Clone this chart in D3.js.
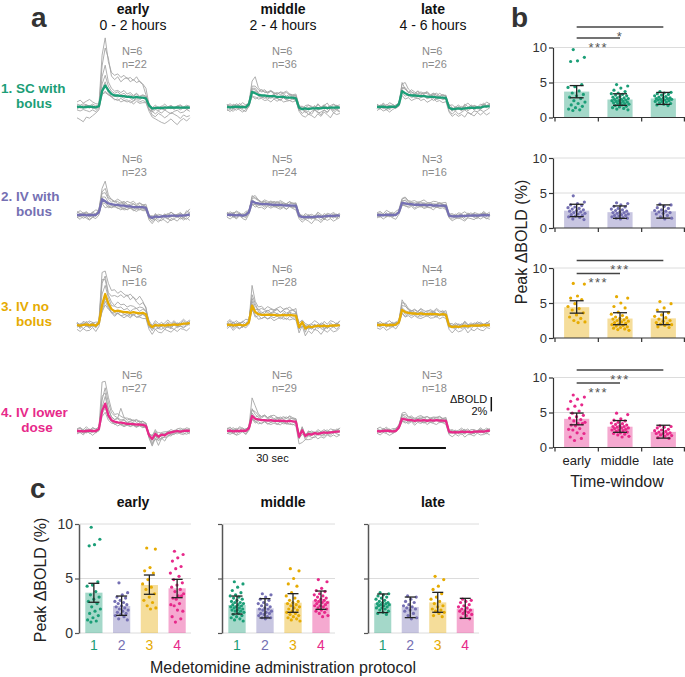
<!DOCTYPE html>
<html><head><meta charset="utf-8">
<script src="https://cdn.jsdelivr.net/npm/d3@7"></script>
<style>body{margin:0;background:#fff}svg{display:block;font-family:"Liberation Sans",Arial,Helvetica,sans-serif}</style>
</head><body><svg id="chart" width="685" height="677"></svg>
<script>
// ---------------- DATA ----------------
const windows = ["early","middle","late"];
const windowHours = ["0 - 2 hours","2 - 4 hours","4 - 6 hours"];
const groupLine1 = ["1. SC with","2. IV with","3. IV no","4. IV lower"];
const groupLine2 = ["bolus","bolus","bolus","dose"];
const groupTicks = ["1","2","3","4"];
const groupColors = ["#1b9e77","#7570b3","#e6ab02","#e7298a"];
const animalsN = [[6,6,6],[6,5,3],[6,6,4],[6,6,3]];
const scansN = [[22,36,26],[23,24,16],[16,28,18],[27,29,18]];
const timeSec = [-14,-12,-10,-8,-6,-4,-2,0,2,4,6,8,10,12,14,16,18,20,22,24,26,28,30,32,34,36,38,40,42,44,46,48,50,52,54,56,58];
const stimulus = [0,30];

// mean ΔBOLD traces (%), per group: [early, middle, late]
const meanSC = [
 [0,0.05,-0.05,0,0.05,0,-0.05, 0.1,2.2,3.0,2.3,1.8,1.6,1.6,1.5,1.5,1.4,1.4,1.3,1.4,1.3,1.3,1.2, 0.2,-0.2,-0.15,-0.1,-0.15,-0.1,-0.1,-0.05,-0.1,-0.05,-0.1,-0.1,-0.05,-0.1],
 [0,-0.05,0,0.05,0,0,-0.05, 0.4,2.1,1.9,1.7,1.6,1.6,1.5,1.5,1.5,1.4,1.4,1.4,1.3,1.3,1.3,1.2, -0.1,-0.3,-0.2,-0.3,-0.2,-0.2,-0.15,-0.2,-0.1,-0.15,-0.1,-0.1,-0.05,-0.1],
 [0,0,0.05,-0.05,0,0.05,0, 0.4,2.2,1.9,1.7,1.6,1.6,1.55,1.5,1.5,1.45,1.4,1.4,1.35,1.3,1.3,1.25, -0.1,-0.3,-0.25,-0.2,-0.25,-0.2,-0.15,-0.1,-0.15,-0.05,-0.1,0.05,0.1,0.1]];
const meanIVbolus = [
 [0,0,0.05,-0.05,0,0,0, 0.4,2.2,1.9,1.6,1.5,1.4,1.4,1.3,1.3,1.2,1.2,1.1,1.1,1.1,1.1,1.0, -0.2,-0.4,-0.2,-0.3,-0.2,-0.15,-0.2,-0.1,-0.1,-0.15,-0.05,-0.1,0,0.05],
 [0,0.05,0,-0.05,0,-0.1,0, 0.4,1.9,1.7,1.6,1.5,1.5,1.5,1.45,1.4,1.4,1.4,1.35,1.3,1.35,1.3,1.3, -0.1,-0.3,-0.3,-0.25,-0.3,-0.25,-0.2,-0.25,-0.2,-0.15,-0.1,-0.15,-0.1,-0.05],
 [0,0,-0.05,0.05,0,0,0, 0.4,1.7,1.6,1.5,1.5,1.4,1.45,1.4,1.4,1.35,1.4,1.3,1.35,1.3,1.3,1.25, -0.1,-0.2,-0.15,-0.2,-0.1,-0.15,-0.1,-0.1,-0.05,-0.1,-0.05,0,-0.05,0]];
const meanIVnoBolus = [
 [0,-0.1,0,0.1,-0.05,0.05,-0.1, 0.3,2.8,4.3,3.0,2.2,1.9,2.0,1.9,1.8,1.8,1.7,1.8,1.7,1.6,1.7,1.5, 0.1,-0.3,0,-0.1,0,-0.1,0,0,0.1,0,0.1,0.2,0.2,0.3],
 [0,0.05,-0.05,0,0.05,-0.05,0, 0.4,2.7,1.8,1.5,1.4,1.4,1.45,1.4,1.4,1.35,1.35,1.4,1.35,1.4,1.35,1.3, -0.3,0.4,-0.5,-0.2,-0.3,-0.2,-0.1,-0.2,-0.1,-0.2,-0.1,-0.05,-0.1,0],
 [0,0,0.05,-0.05,0,0,0.05, 0.4,2.1,1.8,1.7,1.6,1.6,1.5,1.6,1.5,1.5,1.55,1.5,1.5,1.45,1.5,1.4, -0.1,-0.3,-0.2,-0.25,-0.2,-0.1,-0.2,-0.1,-0.1,-0.05,-0.1,0,-0.05,0]];
const meanIVlower = [
 [0,0,-0.05,0,0.05,0,0, 0.3,2.8,3.8,2.2,1.5,1.3,1.2,1.15,1.1,1.0,1.0,0.95,0.9,0.9,0.85,0.7, -0.6,-1.1,-0.4,-0.8,-0.5,-0.6,-0.3,-0.2,-0.1,0,-0.1,0,0.05,0],
 [0,0.05,-0.05,0,0,0.05,0, 0.4,2.1,1.7,1.6,1.5,1.5,1.45,1.5,1.4,1.4,1.45,1.4,1.35,1.4,1.35,1.3, -0.8,0.1,-0.7,-0.4,-0.5,-0.3,-0.4,-0.3,-0.2,-0.25,-0.2,-0.15,-0.1,-0.05],
 [0,-0.05,0,0.05,0,-0.05,0, 0.5,1.7,1.6,1.5,1.5,1.4,1.5,1.45,1.5,1.4,1.5,1.45,1.5,1.45,1.45,1.4, -0.1,-0.2,-0.15,-0.2,-0.1,-0.15,-0.1,-0.2,-0.1,-0.1,-0.05,-0.1,0,0.05]];

// individual scan traces, as deviations from the mean (0.1 % units), per group: [early, middle, late]
const scansSC = [
 [[2,-1,3,0,-2,1,0, 1,50,66,40,30,28,30,26,29,25,27,24,28,22,18,5, 2,-3,1,-2,0,2,-1,1,-2,0,3,-1,1,0],
  [-3,0,-1,2,1,-2,0, 0,35,52,45,25,22,26,20,24,27,21,25,20,23,19,14, 1,-5,-2,-4,-1,-3,0,-2,1,-1,-3,0,-2,-1],
  [-15,-18,-20,-14,-16,-12,-8, -5,2,5,-3,-4,-6,-5,-8,-6,-7,-5,-9,-6,-8,-7,-6, -8,-12,-15,-18,-20,-22,-19,-16,-20,-24,-18,-15,-19,-14],
  [4,2,5,3,1,4,2, 2,10,14,6,4,3,5,2,4,1,3,2,4,1,3,2, 3,1,4,0,2,5,1,3,0,2,4,1,3,2],
  [-4,-6,-3,-5,-7,-4,-6, -3,-5,-8,-6,-4,-5,-7,-3,-6,-4,-8,-5,-3,-6,-4,-5, -6,-4,-8,-5,-7,-3,-6,-9,-5,-4,-7,-6,-3,-5],
  [1,-2,0,3,-1,2,-3, -1,20,28,12,8,6,7,5,8,4,6,3,5,2,4,3, 0,-2,2,-1,3,-3,1,0,-2,2,-1,1,-3,0],
  [7,9,6,8,10,7,5, 3,-4,-10,-6,-3,-1,-2,0,-3,1,-2,-4,-1,-3,0,-2, -4,-9,-12,-8,-10,-14,-11,-7,-9,-12,-15,-10,-13,-11]],
 [[3,-2,4,1,-3,2,0, 2,15,23,10,6,8,5,7,4,6,3,5,7,4,2,3, -2,-6,-3,-8,-4,-2,-7,-5,-3,-6,-1,-4,-2,-5],
  [-5,-3,-6,-2,-4,-7,-3, -4,-2,3,-1,-3,-2,-4,-1,-3,-2,-5,-1,-3,-4,-2,-3, -5,-9,-12,-7,-10,-13,-8,-11,-6,-9,-14,-7,-10,-8],
  [2,5,1,4,2,6,3, 1,8,10,7,5,6,4,7,3,5,6,4,2,5,3,4, 2,4,1,5,3,0,6,2,4,1,3,5,2,4],
  [-2,1,-3,0,2,-1,1, -1,-5,-8,-3,-2,-4,-1,-3,0,-2,-4,-1,-3,0,-2,-1, 1,3,-1,2,0,4,-2,1,3,-1,2,0,-3,1],
  [4,0,3,-2,5,1,-1, 3,5,7,3,9,4,6,8,5,3,7,6,9,5,4,6, 3,-1,4,6,2,-2,5,1,3,7,0,4,2,-1],
  [-3,-6,-2,-5,-1,-4,-6, -2,-7,-5,-6,-4,-7,-5,-8,-4,-6,-3,-7,-5,-4,-6,-3, -4,0,-6,-3,-8,-2,-5,-9,-3,-6,-1,-7,-4,-6],
  [1,3,-1,2,0,-2,4, 0,3,5,2,1,-1,2,0,3,-2,1,2,-1,3,0,1, -2,1,-4,2,-1,3,-3,0,2,-2,1,-3,3,0]],
 [[-2,3,0,-4,2,-1,3, 1,10,15,8,5,3,6,2,5,4,1,3,6,2,4,3, 0,-3,2,-1,4,-2,1,3,-3,0,2,5,1,4],
  [4,1,5,2,6,3,0, 2,4,6,3,5,2,7,4,3,6,2,5,3,1,4,2, -4,-7,-3,-8,-5,-2,-6,-9,-4,-6,-3,-7,-5,-2],
  [-5,-2,-6,-3,-7,-4,-1, -3,-6,-8,-4,-7,-5,-3,-6,-4,-8,-5,-2,-6,-4,-7,-5, -6,-10,-7,-11,-8,-12,-6,-9,-11,-7,-10,-8,-12,-9],
  [0,-3,2,-1,3,-2,1, 0,5,8,4,2,1,3,0,2,-1,1,3,0,2,-2,1, 3,6,2,5,1,4,7,2,3,0,5,2,6,3],
  [2,-1,4,0,-2,3,1, 3,-2,-4,0,-3,-1,-4,-2,0,-3,-1,-5,-2,0,-3,-1, 1,-2,3,0,-3,2,-1,4,1,-2,0,3,-1,2],
  [-1,2,-3,1,-4,0,-2, -2,12,6,3,8,5,2,6,4,7,3,5,2,6,3,4, -1,2,-3,1,-2,4,-4,0,2,-1,-3,1,-2,3],
  [3,0,-2,4,1,-1,2, 1,2,0,-2,1,-3,0,-1,2,-2,0,1,-3,-1,1,-2, 5,2,-1,3,0,6,2,-2,4,1,-1,3,0,2]]];
const scansIVbolus = [
 [[2,-3,1,4,-1,2,-2, 3,15,28,12,6,4,5,2,4,1,3,5,2,0,3,1, -3,-1,-5,2,-2,0,-4,1,-2,3,-1,-3,0,-2],
  [-4,-1,-5,-2,-6,-3,0, -2,-5,-3,-6,-4,-2,-5,-3,-6,-4,-2,-5,-3,-1,-4,-2, -5,-8,-4,-7,-3,-6,-9,-4,-5,-7,-3,-6,-4,-8],
  [3,6,2,5,1,4,7, 2,8,12,6,3,5,2,4,6,3,1,4,2,5,3,2, 1,3,0,4,2,-1,3,5,1,2,4,0,6,2],
  [0,2,-2,1,-3,0,2, 1,3,6,2,-1,1,-2,0,2,-1,1,-3,0,2,-2,0, 2,-1,3,0,-2,1,4,-1,0,2,-3,1,3,8],
  [-2,0,3,-1,2,-3,1, -1,-6,-9,-4,-2,-3,0,-2,-4,-1,-3,0,-2,-4,-1,-3, 0,2,-2,1,-1,3,0,-2,2,-1,1,-3,0,1],
  [5,2,0,3,-2,4,1, 4,10,18,8,7,5,8,6,3,7,5,8,4,6,3,5, 2,-2,4,1,-1,3,0,5,2,-1,3,1,-2,4],
  [-3,-6,-2,-4,-7,-3,-5, -4,-2,-1,-3,-5,-2,-4,-6,-3,-5,-2,-4,-6,-3,-5,-4, -2,-5,-1,-4,-6,-2,-3,-7,-4,-1,-5,-3,-6,-2]],
 [[3,-1,2,5,0,-2,3, 0,6,10,5,3,4,2,5,3,1,4,2,3,5,2,3, -2,1,-4,0,-3,2,-1,-5,1,-2,0,-3,2,-1],
  [-3,-6,-2,-5,-1,-4,-7, -3,-5,-2,-6,-4,-7,-3,-5,-2,-4,-6,-3,-5,-2,-4,-6, -4,-7,-3,-6,-9,-4,-5,-8,-3,-6,-4,-7,-5,-3],
  [1,4,2,6,3,1,5, 2,4,7,5,3,6,4,2,5,3,6,4,2,5,3,4, 3,0,5,2,4,1,6,3,0,4,2,5,1,3],
  [-1,1,-3,0,2,-2,0, -2,0,-3,-1,1,-2,0,-3,1,-1,-2,0,2,-1,0,-2, 0,3,-1,2,-2,1,4,0,-1,3,-3,1,2,-2],
  [4,0,-3,2,-1,3,-2, 3,-4,-6,-3,-1,-4,-2,0,-3,-1,-4,-2,-5,-1,-3,-2, 2,-1,3,-3,1,-2,0,2,-4,1,-1,3,0,-2],
  [-2,2,0,-4,1,-1,2, 1,8,6,4,2,3,1,4,2,5,1,3,0,2,4,1, -1,-4,0,-2,2,-3,-1,1,-5,0,-2,1,-3,0],
  [2,-3,4,-1,3,0,-4, -1,2,1,-2,0,1,-1,2,0,-3,1,-1,2,0,-2,1, 4,1,-2,3,0,-3,2,-1,4,1,-2,2,-4,1]],
 [[2,-2,1,-3,3,0,-1, 1,5,8,4,2,3,1,4,2,0,3,1,2,4,1,2, -1,2,-2,1,-3,0,2,-1,1,-2,3,0,-1,2],
  [-4,-2,-5,-3,-1,-4,-6, -3,-4,-2,-5,-3,-6,-4,-2,-5,-3,-4,-6,-2,-4,-3,-5, -3,-6,-4,-2,-5,-7,-3,-4,-6,-2,-5,-3,-4,-6],
  [3,5,2,6,4,1,5, 4,6,9,5,4,6,3,5,7,4,3,6,5,3,4,5, 2,4,1,5,3,6,2,0,4,3,1,5,2,4],
  [0,-1,2,-2,1,-3,1, -1,-3,-2,0,-2,1,-1,-3,0,-2,1,-1,-3,0,-1,-2, 1,-1,3,0,-2,2,-1,1,3,-2,0,2,-1,1],
  [-2,1,-1,3,-3,2,0, 0,3,4,1,-1,0,2,-1,1,3,0,-2,1,0,2,-1, 3,0,-3,1,2,-1,4,0,-2,2,-1,3,1,-3],
  [1,3,0,-2,2,4,-1, 2,1,5,2,3,0,4,1,3,2,0,3,1,4,2,0, -2,-4,0,-3,-1,-5,-2,1,-3,-4,0,-2,-5,-1],
  [-1,-3,2,-1,0,-2,3, -2,-1,-4,-3,-1,-4,-2,-1,-3,-2,-4,-1,-3,-2,-1,-3, 0,2,-1,3,1,-2,2,4,0,1,-1,3,2,0]]];
const scansIVnoBolus = [
 [[2,-2,3,0,-3,1,-1, 2,45,32,28,26,30,24,28,25,22,26,20,18,24,16,8, 3,-2,1,-4,0,2,-3,1,-1,3,0,-2,2,-1],
  [-3,0,-5,-2,-4,-1,-3, -1,30,25,15,18,22,19,23,20,24,18,21,15,12,14,10, -2,-5,-1,-4,-6,-2,-3,-5,0,-4,-2,-6,-3,-1],
  [4,1,5,2,6,3,1, 3,15,12,8,5,7,4,6,3,5,2,4,6,3,5,4, 5,2,6,3,0,4,7,2,5,1,3,6,2,4],
  [-6,-8,-5,-9,-7,-4,-8, -5,-8,-10,-6,-5,-7,-4,-6,-8,-5,-7,-4,-6,-5,-8,-6, -7,-10,-6,-9,-11,-5,-8,-10,-7,-9,-6,-8,-10,-7],
  [1,-1,2,-3,0,3,-2, 0,-10,-15,-8,-4,-5,-3,-6,-4,-2,-5,-3,-6,-4,-2,-3, 2,-1,3,0,-2,1,4,-3,0,2,-1,1,-2,3],
  [-2,3,0,4,-1,2,5, 1,35,20,12,10,8,12,9,11,7,10,8,6,9,7,5, 0,3,-2,1,4,-1,2,0,3,-2,1,4,-1,2],
  [3,-4,1,-2,4,-3,2, -2,-4,-6,-3,-5,-2,-4,-1,-3,-5,-2,-4,-1,-3,-2,-4, -4,-1,-6,-3,-2,-5,-1,-4,-7,-2,-3,-5,-1,-3]],
 [[2,-3,4,-1,3,-2,1, 0,28,15,10,12,8,11,9,7,10,12,8,9,11,7,10, -2,-6,3,-4,-1,-5,2,-3,-6,0,-4,-2,-5,-1],
  [-5,-2,-7,-3,-6,-1,-4, -3,-6,-4,-7,-5,-3,-6,-4,-8,-5,-3,-6,-4,-7,-5,-6, -8,-5,-10,-6,-9,-4,-7,-11,-6,-8,-5,-9,-7,-4],
  [4,7,3,6,2,5,8, 3,10,8,6,9,7,5,8,6,9,4,7,10,6,8,5, 6,3,7,2,5,8,4,1,6,3,7,5,2,6],
  [-1,1,-2,3,0,-3,2, -2,2,-1,3,1,-2,0,2,-1,3,0,-2,1,3,-1,0, 1,-2,4,0,-3,2,-1,3,-4,1,0,-2,3,-1],
  [3,0,5,-2,2,4,-1, 2,15,12,4,2,5,3,1,4,2,-1,3,1,4,2,3, -3,1,-5,2,-1,3,-4,0,2,-3,1,-2,4,0],
  [-3,1,-4,-1,-5,-2,0, -1,-4,-7,-2,-5,-3,-6,-2,-4,-1,-5,-3,-6,-2,-4,-3, 2,-1,4,-3,0,3,-2,1,-4,2,-1,0,3,-2],
  [1,5,-2,3,0,6,2, 4,6,3,7,4,2,6,3,5,8,4,6,3,5,7,4, 3,0,5,-2,4,1,-1,5,2,-3,4,0,2,5]],
 [[3,-1,2,-3,1,4,-2, 1,10,12,6,4,5,3,6,2,5,4,2,6,3,5,2, -1,3,-2,0,4,-3,1,2,-1,3,-2,0,2,-3],
  [-4,-6,-3,-7,-5,-2,-6, -3,-5,-7,-4,-6,-3,-5,-7,-4,-2,-6,-5,-3,-6,-4,-5, -5,-8,-4,-7,-6,-3,-9,-5,-7,-4,-6,-8,-3,-5],
  [2,5,1,4,6,2,3, 3,6,8,5,3,6,4,7,5,3,6,4,8,5,3,6, 4,1,5,3,0,6,2,4,1,5,3,0,4,2],
  [0,-2,1,-1,2,-3,0, -1,-4,-6,-2,-3,-1,-4,-2,0,-3,-1,-2,-4,0,-2,-1, 0,2,-2,3,-1,1,-3,2,0,-2,3,1,-1,2],
  [-2,2,-1,3,-3,1,2, 0,3,2,1,4,2,0,3,1,-1,2,4,1,0,3,1, 2,-1,3,-2,1,4,-1,0,3,-2,2,-1,4,0],
  [1,-3,0,2,-2,3,-1, 2,14,9,4,2,0,3,1,-1,2,0,3,1,-2,1,0, -2,0,-4,1,-3,-1,2,-4,0,-2,1,-3,-1,2],
  [4,1,-1,3,0,-2,4, -2,0,-3,-1,1,-2,0,-4,-1,1,-3,0,-2,-1,1,-2, 3,5,1,4,2,6,3,0,4,2,5,1,3,6]]];
const scansIVlower = [
 [[2,-2,1,-3,2,0,-1, 1,40,31,25,15,10,12,9,7,8,6,5,7,4,5,3, 0,-5,-8,-3,-6,-2,0,-1,2,-2,1,-1,2,0],
  [-4,-2,-5,-1,-3,-6,-2, -3,15,22,18,10,8,6,20,8,5,7,4,6,3,5,4, -4,-10,-6,-12,-5,-8,-3,-5,-2,-4,-1,-3,-5,-2],
  [3,5,2,6,1,4,3, 2,5,10,7,5,3,6,4,5,2,4,6,3,5,2,4, 2,4,6,1,3,5,2,4,1,3,5,2,4,3],
  [-1,1,-3,0,2,-2,1, -2,-8,-12,-7,-4,-3,-5,-2,-4,-1,-3,-2,-4,-1,-3,-2, 1,-2,2,-3,0,3,-1,2,-2,0,3,-1,1,-2],
  [1,-1,3,-2,0,2,-3, 0,-4,-6,-3,-1,-2,0,-3,-1,-2,0,-1,-3,0,-2,-1, -3,-8,-2,-6,-4,-3,-5,-2,-4,-1,-3,-5,-2,-4],
  [-3,0,-2,2,-4,-1,0, -1,20,15,10,4,3,5,2,4,1,3,2,0,2,1,0, 2,5,3,6,2,1,3,0,2,-1,1,3,0,2],
  [2,4,0,3,-1,5,2, 3,2,-2,-3,-2,-4,-1,-3,-5,-2,-4,-1,-3,-2,-4,-1, -2,0,-4,1,-3,2,-1,-3,0,2,-2,1,-1,3]],
 [[2,-1,3,-2,1,4,0, 2,25,18,8,5,7,4,6,3,5,2,4,6,3,4,2, -2,-6,2,-3,-1,2,-2,0,-3,1,-1,2,-2,0],
  [-3,-5,-2,-6,-4,-1,-5, -3,-4,-6,-3,-5,-2,-4,-6,-3,-5,-2,-4,-3,-5,-4,-6, -10,-17,-5,-8,-6,-4,-7,-5,-8,-3,-6,-4,-7,-5],
  [4,2,5,1,6,3,2, 3,8,10,6,5,7,4,6,8,5,3,6,4,7,5,4, 2,5,1,4,3,0,6,2,4,1,5,3,2,4],
  [-1,2,-3,0,-2,1,-1, 0,-2,-4,-1,1,-2,0,-3,1,-1,-2,0,-3,1,-1,-2, 1,-2,3,-1,2,-3,0,3,-1,1,-2,2,0,-1],
  [1,-3,2,4,-1,0,3, -1,10,6,3,1,0,2,-1,1,3,0,-2,1,2,0,-1, 3,0,-2,4,1,-1,3,0,-3,2,1,-2,4,1],
  [-4,-1,-3,-5,0,-2,-4, -2,-5,-3,-6,-4,-2,-5,-3,-1,-4,-6,-2,-4,-3,-5,-2, -3,-1,-5,-2,-4,-6,-1,-3,-5,-2,-4,0,-3,-5],
  [3,5,1,2,4,0,3, 1,4,2,5,3,6,2,4,1,3,5,2,4,6,3,4, 0,4,-1,2,5,1,3,-2,2,4,0,3,1,5]],
 [[2,-1,3,0,-2,1,4, 2,8,10,5,3,4,2,5,3,6,2,4,3,5,2,3, -1,2,-2,1,3,-3,0,2,-1,1,-2,3,0,-1],
  [-3,-5,-2,-4,-6,-3,-1, -2,-4,-3,-5,-2,-6,-3,-4,-2,-5,-3,-4,-6,-2,-3,-5, -4,-6,-3,-5,-2,-7,-4,-3,-6,-2,-5,-4,-3,-6],
  [3,6,2,5,1,4,3, 4,5,7,4,6,3,5,7,4,6,3,5,4,6,3,5, 2,4,1,3,5,2,0,4,3,1,5,2,4,1],
  [0,-2,1,-3,2,-1,0, -1,-2,0,-3,-1,1,-2,0,-3,-1,0,-2,1,-1,-3,0, 1,-1,2,-2,0,3,-1,1,-3,2,0,-2,1,3],
  [-1,2,-2,1,3,-1,2, 1,3,2,0,2,-1,1,3,0,2,-2,1,0,2,1,-1, 2,0,3,-1,1,4,-2,0,2,-1,3,1,-2,2],
  [4,1,-1,3,-2,2,1, 0,-3,-5,-2,-1,-3,0,-2,-4,-1,-3,-2,0,-3,-1,-2, -3,0,-2,2,-4,-1,1,-3,0,-2,2,-1,-4,0],
  [-2,0,4,-1,2,-3,1, 2,6,4,2,4,1,3,2,4,1,3,2,4,1,3,2, 0,3,-2,1,-1,2,4,0,-3,1,3,-1,2,0]]];

// peak ΔBOLD (%) per scan, per group: [early, middle, late]
const peakSC = [
 [9.7,8.6,8.1,8.0,4.7,4.4,4.3,3.8,3.5,3.3,3.1,2.9,2.7,2.4,2.2,2.0,1.8,1.6,1.4,1.2,1.1,1.0],
 [4.7,4.5,4.2,3.9,3.7,3.5,3.4,3.3,3.2,3.1,3.0,2.9,2.8,2.8,2.7,2.6,2.6,2.5,2.4,2.4,2.3,2.3,2.2,2.1,2.1,2.0,2.0,1.9,1.8,1.7,1.6,1.5,1.4,1.3,1.2,1.1],
 [3.7,3.6,3.5,3.4,3.3,3.2,3.1,3.0,2.9,2.8,2.8,2.7,2.7,2.6,2.6,2.5,2.5,2.4,2.3,2.3,2.2,2.1,2.0,1.9,1.8,1.7]];
const peakIVbolus = [
 [4.6,3.7,3.5,3.3,3.2,3.0,2.9,2.8,2.7,2.6,2.5,2.4,2.3,2.2,2.1,2.0,1.9,1.8,1.7,1.6,1.5,1.3,1.2],
 [3.6,3.5,3.3,3.1,3.0,2.8,2.7,2.6,2.5,2.4,2.3,2.2,2.2,2.1,2.0,1.9,1.8,1.8,1.7,1.6,1.5,1.4,1.4,1.3],
 [3.4,3.3,3.1,2.9,2.8,2.6,2.5,2.4,2.3,2.2,2.1,2.0,1.8,1.6,1.4,1.3]];
const peakIVnoBolus = [
 [7.8,7.7,6.0,5.7,5.5,4.9,4.5,4.2,4.0,3.6,3.3,3.0,2.8,2.5,2.3,2.2],
 [5.9,5.7,5.0,4.5,4.3,3.7,3.4,3.2,3.0,2.9,2.8,2.7,2.6,2.5,2.4,2.3,2.2,2.1,2.0,1.9,1.8,1.7,1.6,1.5,1.4,1.3,1.2,1.1],
 [5.2,4.9,4.3,4.0,3.6,3.3,3.1,2.9,2.7,2.5,2.4,2.2,2.1,2.0,1.9,1.8,1.6,1.5]];
const peakIVlower = [
 [7.5,7.2,6.9,6.6,6.1,5.9,5.5,5.2,4.9,4.6,4.4,4.2,4.0,3.8,3.6,3.4,3.2,3.4,3.1,2.6,2.7,2.5,2.0,2.1,1.5,1.3,1.0],
 [4.9,4.7,4.1,3.9,3.8,3.6,3.5,3.4,3.3,3.2,3.1,3.0,3.0,2.9,2.8,2.8,2.7,2.6,2.5,2.5,2.4,2.3,2.2,2.1,2.0,1.9,1.8,1.6,1.5],
 [3.1,3.0,2.9,2.8,2.6,2.5,2.4,2.3,2.2,2.1,2.0,2.0,1.9,1.8,1.7,1.6,1.4,1.3]];

// bar heights and error bar ends (%), [group][window]
const barMean = [[3.70,2.57,2.72],[2.48,2.26,2.39],[4.40,2.78,2.81],[4.10,2.97,2.23]];
const errLow  = [[2.82,1.74,1.87],[1.62,1.38,1.41],[3.55,1.90,1.90],[3.24,2.17,1.34]];
const errHigh = [[4.56,3.39,3.58],[3.39,3.15,3.30],[5.32,3.61,3.73],[4.92,3.85,3.18]];
const yTicks = [0,5,10];

// significance brackets in panel b, per group
const sigB = [
 [{from:"early",to:"middle",label:"***"},{from:"early",to:"late",label:"*"}],
 [],
 [{from:"early",to:"middle",label:"***"},{from:"early",to:"late",label:"***"}],
 [{from:"early",to:"middle",label:"***"},{from:"early",to:"late",label:"***"}]];

// ---------------- DRAW ----------------
const meanTraces = [meanSC, meanIVbolus, meanIVnoBolus, meanIVlower];
const scanTraces = [scansSC, scansIVbolus, scansIVnoBolus, scansIVlower];
const peaks = [peakSC, peakIVbolus, peakIVnoBolus, peakIVlower];

const svg = d3.select("#chart");
const dark = "#333";

function panelLabel(t, x, y){
  svg.append("text").attr("x",x).attr("y",y).attr("font-size",28).attr("font-weight","bold")
    .attr("fill",dark).text(t);
}
panelLabel("a",31,27); panelLabel("b",511,27); panelLabel("c",30,498);

// ----- panel a -----
const colX = [77,227,377], traceW = 112.8;
const rowY = [107,215,325,431];
const pxPerPct = 7.2;

windows.forEach((w,wi)=>{
  const cx = colX[wi] + 56;
  svg.append("text").attr("x",cx).attr("y",14).attr("text-anchor","middle")
    .attr("font-size",14).attr("font-weight","bold").attr("fill","#111").text(w);
  svg.append("text").attr("x",cx).attr("y",30).attr("text-anchor","middle")
    .attr("font-size",14).attr("fill","#111").text(windowHours[wi]);
});

groupLine1.forEach((l,gi)=>{
  svg.append("text").attr("x",1).attr("y",rowY[gi]-14).attr("font-size",13.5).attr("font-weight","bold")
    .attr("fill",groupColors[gi]).text(l);
  svg.append("text").attr("x",gi===3?37:34).attr("y",rowY[gi]+1).attr("text-anchor","middle")
    .attr("font-size",13.5).attr("font-weight","bold").attr("fill",groupColors[gi]).text(groupLine2[gi]);
});

groupLine1.forEach((l,gi)=>{
  windows.forEach((w,wi)=>{
    const x = d3.scaleLinear().domain([timeSec[0], timeSec[timeSec.length-1]]).range([colX[wi], colX[wi]+traceW]);
    const y = d3.scaleLinear().domain([0,1]).range([rowY[gi], rowY[gi]-pxPerPct]);
    const mean = meanTraces[gi][wi];
    const line = d3.line().x((d,i)=>x(timeSec[i])).y(d=>y(d));
    const g = svg.append("g");
    g.selectAll("path.scan").data(scanTraces[gi][wi]).join("path")
      .attr("d", dev => line(mean.map((m,i)=>m + dev[i]/10)))
      .attr("fill","none").attr("stroke","#a0a0a0").attr("stroke-width",0.85).attr("stroke-linejoin","round");
    g.append("path").attr("d",line(mean)).attr("fill","none").attr("stroke",groupColors[gi])
      .attr("stroke-width",2.3).attr("stroke-linejoin","round");
    g.append("text").attr("x",colX[wi]+45).attr("y",rowY[gi]-52).attr("font-size",11).attr("fill","#8a8a8a")
      .text("N="+animalsN[gi][wi]);
    g.append("text").attr("x",colX[wi]+45).attr("y",rowY[gi]-39).attr("font-size",11).attr("fill","#8a8a8a")
      .text("n="+scansN[gi][wi]);
    if(gi===3){
      g.append("line").attr("x1",x(stimulus[0])).attr("x2",x(stimulus[1])).attr("y1",448).attr("y2",448)
        .attr("stroke","#111").attr("stroke-width",2);
      if(wi===1) g.append("text").attr("x",(x(stimulus[0])+x(stimulus[1]))/2).attr("y",462)
        .attr("text-anchor","middle").attr("font-size",11).attr("fill","#111").text("30 sec");
      if(wi===2){
        const sx = colX[wi]+traceW+1.5;
        g.append("line").attr("x1",sx).attr("x2",sx).attr("y1",y(0)-34).attr("y2",y(0)-34+2*pxPerPct)
          .attr("stroke","#111").attr("stroke-width",1.5);
        g.append("text").attr("x",sx-4).attr("y",y(0)-28).attr("text-anchor","end").attr("font-size",11).attr("fill","#111").text("ΔBOLD");
        g.append("text").attr("x",sx-4).attr("y",y(0)-16).attr("text-anchor","end").attr("font-size",11).attr("fill","#111").text("2%");
      }
    }
  });
});

// jitter for dot placement (visual only)
const jit = i => ((i*0.6180339887 + 0.31) % 1) * 2 - 1;

// ----- panel b -----
const bX = d3.scaleBand().domain(windows).range([555,685]).paddingInner(0.42).paddingOuter(0.21);
const bRowBase = [117.5,228,338,447.5], bH = 70;
const sigOffsets = [[-9.5,-20.5],null,[5.5,-7.5],[5.5,-7.5]];
groupColors.forEach((col,gi)=>{
  const y = d3.scaleLinear().domain([0,10]).range([bRowBase[gi], bRowBase[gi]-bH]);
  const g = svg.append("g");
  g.selectAll("line.grid").data([5,10]).join("line")
    .attr("x1",553).attr("x2",685).attr("y1",d=>y(d)).attr("y2",d=>y(d)).attr("stroke","#dcdcdc").attr("stroke-width",1);
  windows.forEach((w,wi)=>{
    const cx = bX(w)+bX.bandwidth()/2;
    g.append("rect").attr("x",bX(w)).attr("width",bX.bandwidth()).attr("y",y(barMean[gi][wi]))
      .attr("height",y(0)-y(barMean[gi][wi])).attr("fill",col).attr("fill-opacity",0.4);
    g.selectAll(null).data(peaks[gi][wi]).join("circle")
      .attr("cx",(d,i)=>cx + jit(i)*9).attr("cy",d=>y(d)).attr("r",1.6).attr("fill",col);
    const eb = g.append("g").attr("stroke","#222").attr("stroke-width",1.3);
    eb.append("line").attr("x1",cx).attr("x2",cx).attr("y1",y(errLow[gi][wi])).attr("y2",y(errHigh[gi][wi]));
    [errLow[gi][wi],errHigh[gi][wi]].forEach(v=>eb.append("line").attr("x1",cx-7).attr("x2",cx+7).attr("y1",y(v)).attr("y2",y(v)));
  });
  const ax = g.append("g").attr("transform","translate(553,0)")
    .call(d3.axisLeft(y).tickValues(yTicks).tickSize(4).tickSizeOuter(0).tickPadding(2));
  ax.select(".domain").attr("stroke",dark).attr("stroke-width",1.2);
  ax.selectAll(".tick line").attr("stroke",dark).attr("stroke-width",1.2);
  ax.selectAll(".tick text").attr("font-size",13).attr("fill",dark).attr("font-family",'"Liberation Sans",Arial,sans-serif');
  g.append("line").attr("x1",553).attr("x2",685).attr("y1",y(0)).attr("y2",y(0)).attr("stroke",dark).attr("stroke-width",1.2);
  const bounds = [555].concat(windows.map(w=>bX(w)+bX.bandwidth()+bX.step()*bX.paddingInner()/2));
  g.selectAll(null).data(bounds).join("line").attr("x1",d=>Math.min(d,684.4)).attr("x2",d=>Math.min(d,684.4))
    .attr("y1",y(0)).attr("y2",y(0)+4).attr("stroke",dark).attr("stroke-width",1.2);
  if(gi===3){
    windows.forEach(w=>g.append("text").attr("x",bX(w)+bX.bandwidth()/2).attr("y",y(0)+17)
      .attr("text-anchor","middle").attr("font-size",13).attr("fill","#222").text(w));
  }
  sigB[gi].forEach((s,k)=>{
    const x1 = bX(s.from)+bX.bandwidth()/2, x2 = bX(s.to)+bX.bandwidth()/2;
    const ly = y(10) + sigOffsets[gi][k];
    g.append("line").attr("x1",x1).attr("x2",x2).attr("y1",ly).attr("y2",ly).attr("stroke","#444").attr("stroke-width",1.6);
    g.append("text").attr("x",(x1+x2)/2).attr("y",ly+13.5).attr("text-anchor","middle").attr("font-size",13)
      .attr("letter-spacing",1.5).attr("fill","#555").text(s.label);
  });
});
svg.append("text").attr("transform","translate(527,242) rotate(-90)").attr("text-anchor","middle")
  .attr("font-size",16).attr("fill","#222").text("Peak ΔBOLD (%)");
svg.append("text").attr("x",617).attr("y",487).attr("text-anchor","middle")
  .attr("font-size",16).attr("fill","#222").text("Time-window");

// ----- panel c -----
const cRanges = [[80,191],[223,335],[369,479]];
const cY = d3.scaleLinear().domain([0,10]).range([633,524]);
windows.forEach((w,wi)=>{
  const [x0,x1] = cRanges[wi];
  const x = d3.scaleBand().domain(groupTicks).range([x0,x1]).paddingInner(0.38).paddingOuter(0.19);
  const g = svg.append("g");
  svg.append("text").attr("x",colX[wi]+56).attr("y",507).attr("text-anchor","middle")
    .attr("font-size",14).attr("font-weight","bold").attr("fill","#111").text(w);
  g.selectAll("line.grid").data(yTicks).join("line")
    .attr("x1",x0).attr("x2",x1).attr("y1",d=>cY(d)).attr("y2",d=>cY(d)).attr("stroke","#dcdcdc").attr("stroke-width",1);
  groupTicks.forEach((t,gi)=>{
    const col = groupColors[gi];
    const cx = x(t)+x.bandwidth()/2;
    g.append("rect").attr("x",x(t)).attr("width",x.bandwidth()).attr("y",cY(barMean[gi][wi]))
      .attr("height",cY(0)-cY(barMean[gi][wi])).attr("fill",col).attr("fill-opacity",0.4);
    g.selectAll(null).data(peaks[gi][wi]).join("circle")
      .attr("cx",(d,i)=>cx + jit(i)*7).attr("cy",d=>cY(d)).attr("r",1.6).attr("fill",col);
    const eb = g.append("g").attr("stroke","#222").attr("stroke-width",1.3);
    eb.append("line").attr("x1",cx).attr("x2",cx).attr("y1",cY(errLow[gi][wi])).attr("y2",cY(errHigh[gi][wi]));
    [errLow[gi][wi],errHigh[gi][wi]].forEach(v=>eb.append("line").attr("x1",cx-5.5).attr("x2",cx+5.5).attr("y1",cY(v)).attr("y2",cY(v)));
    g.append("text").attr("x",cx).attr("y",650).attr("text-anchor","middle").attr("font-size",14)
      .attr("fill",col).text(t);
  });
  const ax = g.append("g").attr("transform",`translate(${x0-1},0)`)
    .call(d3.axisLeft(cY).tickValues(yTicks).tickSize(4).tickSizeOuter(0).tickPadding(2).tickFormat(wi===0?d3.format("d"):()=>""));
  ax.select(".domain").attr("stroke","#555").attr("stroke-width",1.5);
  ax.selectAll(".tick line").attr("stroke","#555").attr("stroke-width",1.2);
  ax.selectAll(".tick text").attr("font-size",14).attr("fill",dark).attr("font-family",'"Liberation Sans",Arial,sans-serif');
});
svg.append("text").attr("transform","translate(46,580) rotate(-90)").attr("text-anchor","middle")
  .attr("font-size",16).attr("fill","#222").text("Peak ΔBOLD (%)");
svg.append("text").attr("x",283).attr("y",673).attr("text-anchor","middle")
  .attr("font-size",16).attr("fill","#222").text("Medetomidine administration protocol");
</script></body></html>
